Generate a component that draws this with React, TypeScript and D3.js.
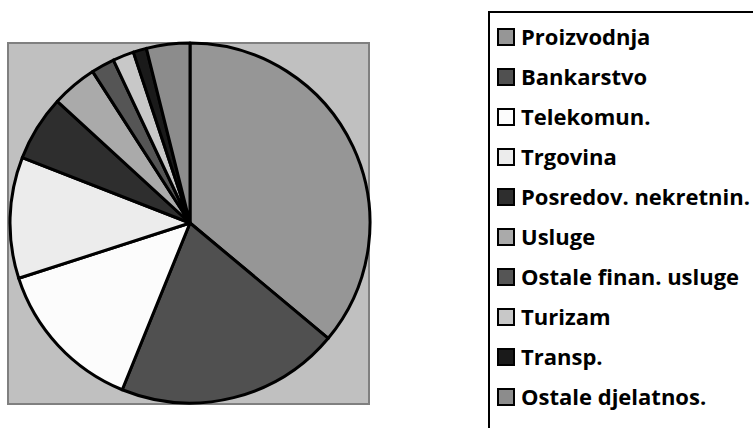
import React from 'react'
import * as d3 from 'd3'

const CATEGORIES = [
  'Proizvodnja',
  'Bankarstvo',
  'Telekomun.',
  'Trgovina',
  'Posredov. nekretnin.',
  'Usluge',
  'Ostale finan. usluge',
  'Turizam',
  'Transp.',
  'Ostale djelatnos.',
]
const VALUES = [36.1, 20.1, 13.9, 10.9, 5.9, 4.1, 2.1, 1.9, 1.2, 3.9]
const COLORS = [
  '#969696',
  '#505050',
  '#fcfcfc',
  '#ececec',
  '#2e2e2e',
  '#aaaaaa',
  '#555555',
  '#c8c8c8',
  '#1a1a1a',
  '#8c8c8c',
]

const W = 753
const H = 428

export default function App() {
  const cx = 190
  const cy = 223
  const r = 180

  const pie = d3
    .pie<number>()
    .sort(null)
    .value((d) => d)
  const arcs = pie(VALUES)
  const arc = d3.arc<d3.PieArcDatum<number>>().innerRadius(0).outerRadius(r)

  const legendY = d3
    .scalePoint<string>()
    .domain(CATEGORIES)
    .range([37, 397])

  return (
    <svg
      width={W}
      height={H}
      style={{ position: 'fixed', left: 0, top: 0, background: '#fff' }}
    >
      {/* plot area */}
      <rect x={8} y={43} width={361} height={361} fill="#c0c0c0" stroke="#808080" strokeWidth={2} />

      <g transform={`translate(${cx},${cy})`}>
        {arcs.map((a, i) => (
          <path
            key={CATEGORIES[i]}
            d={arc(a) ?? ''}
            fill={COLORS[i]}
            stroke="#000"
            strokeWidth={3}
            strokeLinejoin="round"
          />
        ))}
      </g>

      {/* legend */}
      <rect x={489} y={12} width={300} height={430} fill="#fff" stroke="#000" strokeWidth={2} />
      {CATEGORIES.map((c, i) => {
        const y = legendY(c) ?? 0
        return (
          <g key={c}>
            <rect
              x={498}
              y={y - 8}
              width={16}
              height={16}
              fill={COLORS[i]}
              stroke="#000"
              strokeWidth={2}
            />
            <text
              x={521}
              y={y}
              dy="0.36em"
              fontFamily="'Open Sans', 'Noto Sans', sans-serif"
              fontWeight="bold"
              fontSize={22}
              fill="#000"
            >
              {c}
            </text>
          </g>
        )
      })}
    </svg>
  )
}
